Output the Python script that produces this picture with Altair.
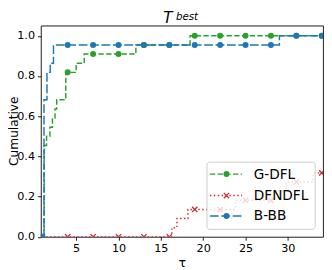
import altair as alt
import pandas as pd

# ---- data ----
blue_x = [1.0, 1.2, 1.55, 1.93, 2.32, 29.0, 34.15]
blue_y = [0, 15/22, 18/22, 19/22, 21/22, 1.0, 1.0]

green_x = [1.0, 1.22, 1.5, 1.9, 2.2, 2.5, 2.7, 3.77, 5.0, 5.95, 12.05, 18.45, 34.15]
green_y = [0, 10/22, 11/22, 12/22, 13/22, 14/22, 15/22, 18/22, 19/22, 20/22, 21/22, 1.0, 1.0]

red_x = [1.0, 16.3, 16.9, 18.2, 23.8, 28.4, 29.8, 33.0, 34.15]
red_y = [0, 1/22, 2/22, 3/22, 4/22, 5/22, 6/22, 7/22, 7/22]

marker_x = [1, 4, 7, 10, 13, 16, 19, 22, 25, 28, 31, 34]
blue_m = [0, 21/22, 21/22, 21/22, 21/22, 21/22, 21/22, 21/22, 21/22, 21/22, 1.0, 1.0]
green_m = [0, 18/22, 20/22, 20/22, 21/22, 21/22, 1.0, 1.0, 1.0, 1.0, 1.0, 1.0]
red_m = [0, 0, 0, 0, 0, 0, 3/22, 3/22, 4/22, 4/22, 6/22, 7/22]

series_names = ["G-DFL", "DFNDFL", "B-BB"]
x_ticks = [5, 10, 15, 20, 25, 30]
y_ticks = [0.0, 0.2, 0.4, 0.6, 0.8, 1.0]

GREEN = "#2ca02c"
RED = "#d62728"
BLUE = "#1f77b4"
FONT = "DejaVu Sans"
XPATH = "M-1,-1L1,1M-1,1L1,-1"

xs = alt.Scale(domain=[0.83, 34.15], nice=False, zero=False)
ys = alt.Scale(domain=[0, 1.051], nice=False, zero=False)

X = alt.X("x:Q", scale=xs,
          axis=alt.Axis(values=x_ticks, title="τ", format="d"))
Y = alt.Y("y:Q", scale=ys,
          axis=alt.Axis(values=y_ticks, title="", format=".1f"))


def line_layer(xv, yv, color, dash):
    df = pd.DataFrame({"x": xv, "y": yv})
    return alt.Chart(df).mark_line(
        interpolate="step-after", color=color, strokeWidth=1.5,
        strokeDash=dash, clip=True
    ).encode(x=X, y=Y)


def marker_layer(yv, color, cross=False):
    df = pd.DataFrame({"x": marker_x, "y": yv})
    if cross:
        m = alt.Chart(df).mark_point(shape=XPATH, size=30, filled=False,
                                     stroke=color, strokeWidth=1.3,
                                     opacity=1, clip=True)
    else:
        m = alt.Chart(df).mark_point(shape="circle", size=38, filled=True,
                                     color=color, opacity=1, clip=True)
    return m.encode(x=X, y=Y)


one = pd.DataFrame({"a": [0]})

green_dash = [5.5, 2.4]
red_dash = [1.5, 2.5]
blue_dash = [9, 2.7]

layers = [
    line_layer(green_x, green_y, GREEN, green_dash),
    marker_layer(green_m, GREEN),
    line_layer(red_x, red_y, RED, red_dash),
    marker_layer(red_m, RED, cross=True),
    line_layer(blue_x, blue_y, BLUE, blue_dash),
    marker_layer(blue_m, BLUE),
]

# ---- legend (drawn as decoration) ----
lx0, lx1, lmx, ltx = 173.3, 206.3, 190.3, 218.3
rows_y = [152.3, 174.3, 195.3]
layers.append(
    alt.Chart(one).mark_rect(fill="white", fillOpacity=0.8, stroke="#cccccc",
                             strokeWidth=1, cornerRadius=3).encode(
        x=alt.value(170.3), x2=alt.value(281.3),
        y=alt.value(140.0), y2=alt.value(209.0))
)
styles = [(GREEN, green_dash, False), (RED, red_dash, True), (BLUE, blue_dash, False)]
for name, ry, (col, dash, cross) in zip(series_names, rows_y, styles):
    layers.append(
        alt.Chart(one).mark_rule(color=col, strokeWidth=1.5, strokeDash=dash).encode(
            x=alt.value(lx0), x2=alt.value(lx1), y=alt.value(ry))
    )
    if cross:
        layers.append(
            alt.Chart(one).mark_point(shape=XPATH, size=30, filled=False, stroke=col,
                                      strokeWidth=1.3, opacity=1).encode(
                x=alt.value(lmx), y=alt.value(ry))
        )
    else:
        layers.append(
            alt.Chart(one).mark_point(shape="circle", size=38, filled=True, color=col,
                                      opacity=1).encode(
                x=alt.value(lmx), y=alt.value(ry))
        )
    layers.append(
        alt.Chart(one).mark_text(text=name, font=FONT, fontSize=14, align="left",
                                 baseline="middle", color="black").encode(
            x=alt.value(ltx), y=alt.value(ry + 0.5))
    )

# ---- title T^best ----
layers.append(
    alt.Chart(one).mark_text(text="T", font=FONT, fontSize=15.5, fontStyle="italic",
                             align="left", baseline="alphabetic", color="black").encode(
        x=alt.value(125.5), y=alt.value(-2.5))
)
layers.append(
    alt.Chart(one).mark_text(text="best", font=FONT, fontSize=10.5, fontStyle="italic",
                             align="left", baseline="alphabetic", color="black").encode(
        x=alt.value(138.5), y=alt.value(-6.0))
)

# ---- y axis title ----
layers.append(
    alt.Chart(one).mark_text(text="Cumulative", font=FONT, fontSize=12.5, angle=270,
                             align="center", baseline="alphabetic", color="black").encode(
        x=alt.value(-23.6), y=alt.value(108.3))
)

chart = alt.layer(*layers).properties(
    width=289.3, height=216.6,
    autosize=alt.AutoSizeParams(type="none"),
    padding={"left": 33.7, "top": 14.7, "right": 1, "bottom": 30.7},
).configure_view(
    stroke="black", strokeWidth=0.9
).configure_axis(
    grid=False, domain=False,
    labelFont=FONT, labelFontSize=11.5, labelColor="black",
    titleFont=FONT, titleFontSize=13, titleFontWeight="normal", titleColor="black",
    tickColor="black", tickSize=3.5, tickWidth=0.9, labelPadding=3,
).configure_axisX(
    titlePadding=2
)

chart.save("out.html", embed_options={"renderer": "svg", "actions": False})
